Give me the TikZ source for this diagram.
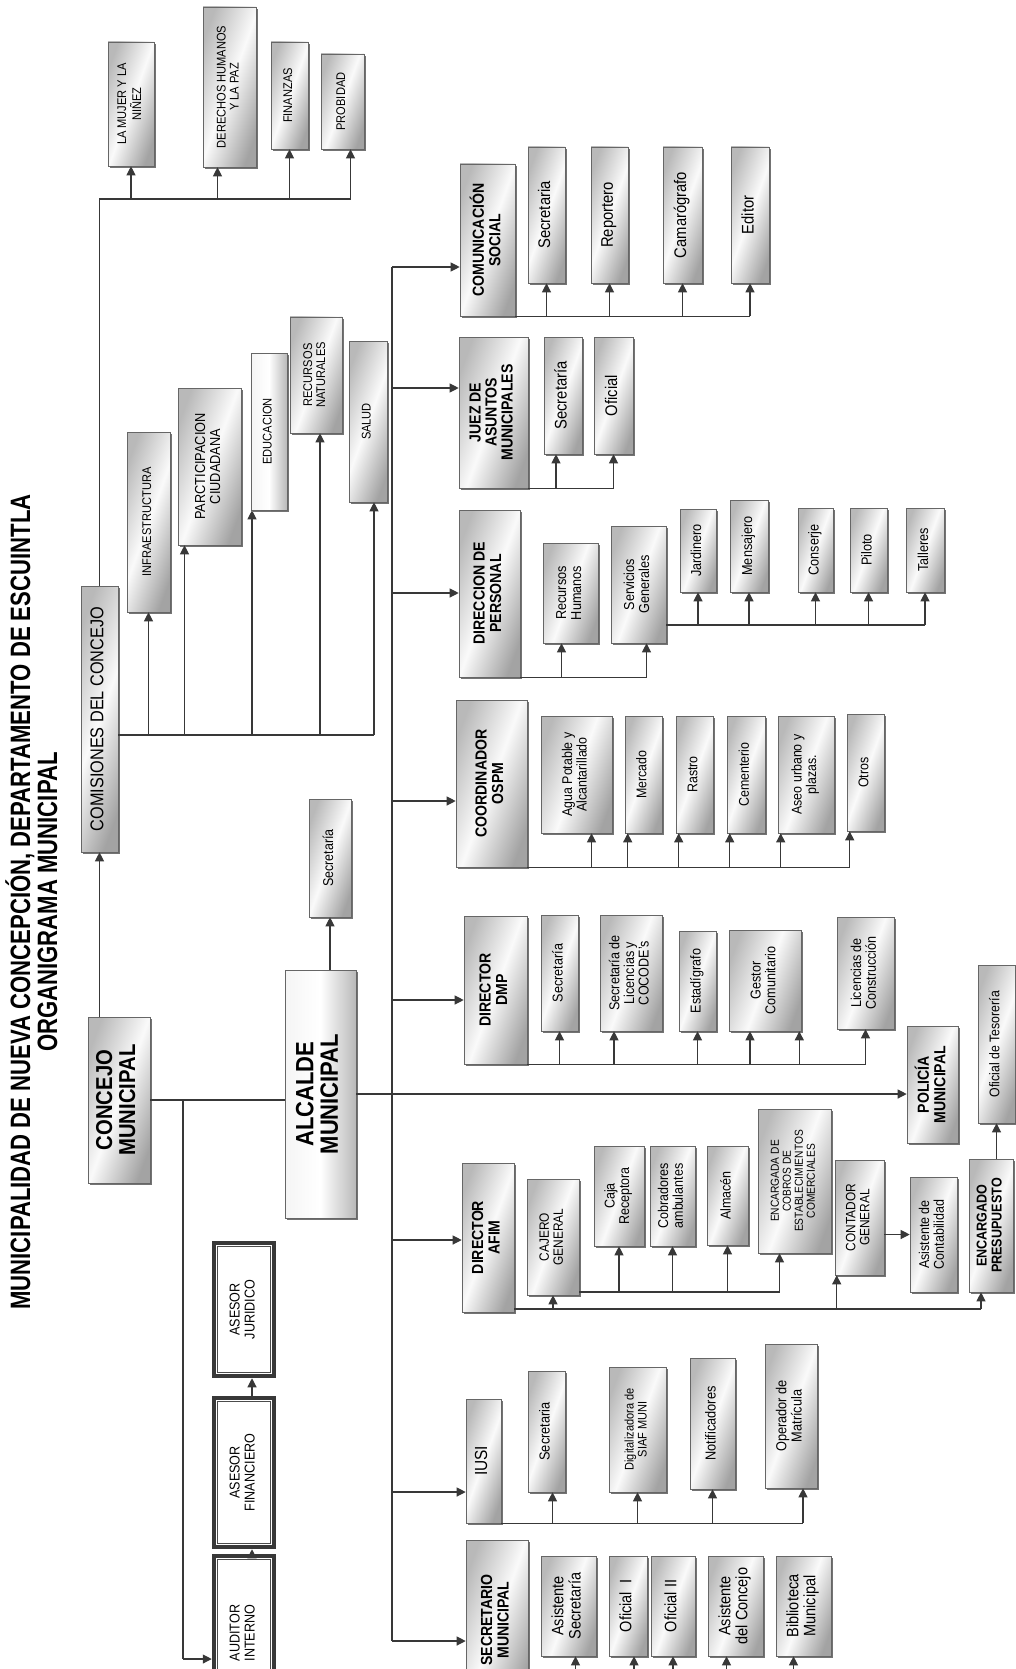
\documentclass[tikz,border=0pt]{standalone}
\usepackage{fontspec}
\setmainfont{Liberation Sans}
\usetikzlibrary{arrows.meta,shadows}
\newcommand{\fzz}[2]{\fontsize{#1}{#2}\selectfont}
\newcommand{\vtx}[3][0.88]{\rotatebox{90}{\scalebox{#1}[1]{#2\begin{tabular}{@{}c@{}}#3\end{tabular}}}}
\newcommand{\obox}[7][bx]{\node[#1,minimum width={(#5-#3)*1pt},minimum height={(#6-#4)*1pt}] (#2) at ({(#3+#5)/2},{(#4+#6)/2}) {#7};}
\tikzset{
  bx/.style={draw=black!60, line width=0.6pt, inner sep=0pt,
    left color=gray!55, right color=gray!72, middle color=gray!4, shading angle=70,
    drop shadow={shadow xshift=2.2pt, shadow yshift=-2.2pt, fill=black!55, opacity=1}},
  lightbx/.style={bx, left color=gray!8, right color=gray!55, middle color=white},
  asr/.style={draw=black!78, line width=4.5pt, fill=white, inner sep=0pt},
  ln/.style={draw=black!78, line width=1.1pt},
  arr/.style={ln, -{Triangle[width=9pt,length=9pt]}},
}
\begin{document}
\begin{tikzpicture}[x=1pt,y=-1pt]
\useasboundingbox (0,0) rectangle (1016,1669);
\clip (0,0) rectangle (1016,1669);
\fill[white] (0,0) rectangle (1016,1669);

% title
\node[inner sep=0pt] (title) at (35,902) {\vtx[0.79]{\fzz{28}{25}\bfseries}{MUNICIPALIDAD DE NUEVA CONCEPCIÓN, DEPARTAMENTO DE ESCUINTLA\\ORGANIGRAMA MUNICIPAL}};

% commissions
\obox{mujer}{108}{42}{154}{166}{\vtx{\fzz{12.6}{13}}{LA MUJER Y LA\\NIÑEZ}}
\obox{derechos}{203}{7}{256}{167}{\vtx{\fzz{12.6}{13}}{DERECHOS HUMANOS\\Y LA PAZ}}
\obox{finanzas}{271}{42}{308}{149}{\vtx{\fzz{12.6}{13}}{FINANZAS}}
\obox{probidad}{321}{54}{364}{149}{\vtx{\fzz{12.6}{13}}{PROBIDAD}}
\obox{infra}{127}{432}{170}{612}{\vtx{\fzz{12.6}{13}}{INFRAESTRUCTURA}}
\obox{partic}{178}{388}{241}{545}{\vtx{\fzz{14.5}{15}}{PARCTICIPACION\\CIUDADANA}}
\obox[lightbx]{educ}{251}{353}{287}{510}{\vtx{\fzz{12.6}{13}}{EDUCACION}}
\obox{recursos}{290}{317}{342}{433}{\vtx{\fzz{12.6}{13}}{RECURSOS\\NATURALES}}
\obox{salud}{349}{341}{387}{502}{\vtx{\fzz{12.6}{13}}{SALUD}}
\obox{comisiones}{81}{586}{118}{852}{\vtx{\fzz{18.5}{19}}{COMISIONES DEL CONCEJO}}
\obox{concejo}{88}{1017}{150}{1183}{\vtx{\fzz{23}{23}\bfseries}{CONCEJO\\MUNICIPAL}}
\obox[lightbx]{alcalde}{285}{970}{356}{1218}{\vtx{\fzz{25}{24}\bfseries}{ALCALDE\\MUNICIPAL}}
\obox{secalc}{309}{799}{351}{917}{\vtx{\fzz{14.2}{14.5}}{Secretaría}}

% asesores
\obox[asr]{juridico}{214}{1243}{274}{1376}{\vtx{\fzz{14.3}{15}}{ASESOR\\JURIDICO}}
\obox[asr]{financiero}{214}{1398}{274}{1547}{\vtx{\fzz{14.3}{15}}{ASESOR\\FINANCIERO}}
\obox[asr]{auditor}{214}{1556}{274}{1710}{\vtx{\fzz{14.3}{15}}{AUDITOR\\INTERNO}}
\foreach \n in {juridico,financiero,auditor}{
  \draw[line width=1pt, black!70] ([shift={(6pt,-6pt)}]\n.north west) rectangle ([shift={(-6pt,6pt)}]\n.south east);
}

% department heads
\obox{comsoc}{460}{164}{515}{316}{\vtx{\fzz{16}{16.5}\bfseries}{COMUNICACIÓN\\SOCIAL}}
\obox{juez}{459}{337}{528}{488}{\vtx{\fzz{16}{16}\bfseries}{JUEZ DE\\ASUNTOS\\MUNICIPALES}}
\obox{dirper}{459}{510}{520}{677}{\vtx{\fzz{16}{16.5}\bfseries}{DIRECCION DE\\PERSONAL}}
\obox{coord}{456}{700}{527}{867}{\vtx{\fzz{16}{16.5}\bfseries}{COORDINADOR\\OSPM}}
\obox{dmp}{464}{916}{527}{1064}{\vtx{\fzz{16}{16.5}\bfseries}{DIRECTOR\\DMP}}
\obox{afim}{462}{1163}{514}{1312}{\vtx{\fzz{16}{16.5}\bfseries}{DIRECTOR\\AFIM}}
\obox{iusi}{466}{1399}{501}{1523}{\vtx{\fzz{17.5}{18}}{IUSI}}
\obox{secmun}{466}{1540}{528}{1700}{\vtx{\fzz{16}{16.5}\bfseries}{SECRETARIO\\MUNICIPAL}}
\obox{policia}{907}{1026}{958}{1143}{\vtx{\fzz{16}{16.5}\bfseries}{POLICÍA\\MUNICIPAL}}
\obox{tes}{978}{965}{1015}{1123}{\vtx{\fzz{14}{14.5}}{Oficial de Tesorería}}

% comunicacion social
\obox{cs1}{528}{147}{565}{283}{\vtx{\fzz{16.8}{17}}{Secretaria}}
\obox{cs2}{591}{147}{628}{283}{\vtx{\fzz{16.8}{17}}{Reportero}}
\obox{cs3}{663}{147}{702}{283}{\vtx{\fzz{16.8}{17}}{Camarógrafo}}
\obox{cs4}{731}{147}{769}{283}{\vtx{\fzz{16.8}{17}}{Editor}}
% juez
\obox{j1}{544}{337}{582}{454}{\vtx{\fzz{16.8}{17}}{Secretaría}}
\obox{j2}{594}{337}{633}{454}{\vtx{\fzz{16.8}{17}}{Oficial}}
% direccion de personal
\obox{dp1}{543}{543}{598}{643}{\vtx{\fzz{14.4}{15}}{Recursos\\Humanos}}
\obox{dp2}{611}{526}{666}{643}{\vtx{\fzz{14.4}{15}}{Servicios\\Generales}}
\obox{sg1}{680}{509}{716}{592}{\vtx{\fzz{14.4}{15}}{Jardinero}}
\obox{sg2}{730}{500}{768}{592}{\vtx{\fzz{14.4}{15}}{Mensajero}}
\obox{sg3}{798}{508}{833}{592}{\vtx{\fzz{14.4}{15}}{Conserje}}
\obox{sg4}{850}{508}{887}{592}{\vtx{\fzz{14.4}{15}}{Piloto}}
\obox{sg5}{906}{508}{944}{592}{\vtx{\fzz{14.4}{15}}{Talleres}}
% coordinador
\obox{o1}{541}{716}{612}{833}{\vtx{\fzz{14.1}{14.5}}{Agua Potable y\\Alcantarillado}}
\obox{o2}{625}{716}{662}{833}{\vtx{\fzz{14.1}{14.5}}{Mercado}}
\obox{o3}{676}{716}{713}{833}{\vtx{\fzz{14.1}{14.5}}{Rastro}}
\obox{o4}{727}{716}{765}{833}{\vtx{\fzz{14.1}{14.5}}{Cementerio}}
\obox{o5}{778}{716}{834}{833}{\vtx{\fzz{14.1}{14.5}}{Aseo urbano y\\plazas.}}
\obox{o6}{847}{714}{884}{831}{\vtx{\fzz{14.1}{14.5}}{Otros}}
% dmp
\obox{d1}{541}{915}{578}{1031}{\vtx{\fzz{14.3}{14.5}}{Secretaría}}
\obox{d2}{600}{915}{662}{1031}{\vtx{\fzz{14.3}{14.5}}{Secretaría de\\Licencias y\\COCODE's}}
\obox{d3}{679}{931}{716}{1031}{\vtx{\fzz{14.3}{14.5}}{Estadígrafo}}
\obox{d4}{729}{930}{801}{1031}{\vtx{\fzz{14.3}{14.5}}{Gestor\\Comunitario}}
\obox{d5}{837}{917}{894}{1029}{\vtx{\fzz{14.3}{14.5}}{Licencias de\\Construcción}}
% afim
\obox{a1}{527}{1179}{579}{1295}{\vtx{\fzz{13.5}{14}}{CAJERO\\GENERAL}}
\obox{a2}{594}{1146}{644}{1246}{\vtx{\fzz{14.2}{14.5}}{Caja\\Receptora}}
\obox{a3}{650}{1146}{695}{1246}{\vtx{\fzz{14.2}{14.5}}{Cobradores\\ambulantes}}
\obox{a4}{707}{1146}{748}{1245}{\vtx{\fzz{14.2}{14.5}}{Almacén}}
\obox{a5}{758}{1109}{831}{1253}{\vtx{\fzz{11.6}{12}}{ENCARGADA DE\\COBROS DE\\ESTABLECIMIENTOS\\COMERCIALES}}
\obox{a6}{835}{1160}{884}{1275}{\vtx{\fzz{13.5}{14}}{CONTADOR\\GENERAL}}
\obox{a7}{910}{1177}{957}{1292}{\vtx{\fzz{14.2}{14.5}}{Asistente de\\Contabilidad}}
\obox{a8}{969}{1159}{1013}{1292}{\vtx{\fzz{14.3}{15}\bfseries}{ENCARGADO\\PRESUPUESTO}}
% iusi
\obox{i1}{528}{1371}{565}{1492}{\vtx{\fzz{14.5}{15}}{Secretaria}}
\obox{i2}{609}{1367}{666}{1492}{\vtx{\fzz{12.5}{13}}{Digitalizadora de\\SIAF MUNI}}
\obox{i3}{690}{1358}{735}{1489}{\vtx{\fzz{14.5}{15}}{Notificadores}}
\obox{i4}{765}{1344}{817}{1488}{\vtx{\fzz{14.5}{15}}{Operador de\\Matrícula}}
% secretario
\obox{s1}{541}{1556}{596}{1656}{\vtx{\fzz{16.5}{17}}{Asistente\\Secretaría}}
\obox{s2}{609}{1556}{647}{1656}{\vtx{\fzz{16.5}{17}}{Oficial\ \ I}}
\obox{s3}{651}{1556}{695}{1656}{\vtx{\fzz{16.5}{17}}{Oficial II}}
\obox{s4}{708}{1556}{763}{1656}{\vtx{\fzz{16.5}{17}}{Asistente\\del Concejo}}
\obox{s5}{776}{1556}{831}{1656}{\vtx{\fzz{16.5}{17}}{Biblioteca\\Municipal}}

% ---- connectors ----
% commissions top
\coordinate (tb) at (0,199);
\draw[ln] (comisiones.north) -- (comisiones.north |- tb) -- ([xshift=8pt]probidad.south |- tb);
\draw[arr] (mujer.south |- tb) -- (mujer.south);
\draw[arr] ([xshift=-12pt]derechos.south |- tb) -- ([xshift=-12pt]derechos.south);
\draw[arr] (finanzas.south |- tb) -- (finanzas.south);
\draw[arr] ([xshift=8pt]probidad.south |- tb) -- ([xshift=8pt]probidad.south);
% commissions bottom
\coordinate (cb) at (0,735);
\draw[ln] (comisiones.east |- cb) -- ([xshift=6pt]salud.south |- cb);
\draw[arr] (infra.south |- cb) -- (infra.south);
\draw[arr] ([xshift=-25pt]partic.south |- cb) -- ([xshift=-25pt]partic.south);
\draw[arr] ([xshift=-17pt]educ.south |- cb) -- ([xshift=-17pt]educ.south);
\draw[arr] ([xshift=4pt]recursos.south |- cb) -- ([xshift=4pt]recursos.south);
\draw[arr] ([xshift=6pt]salud.south |- cb) -- ([xshift=6pt]salud.south);
% concejo
\draw[arr] (comisiones.south |- concejo.north) -- (comisiones.south);
\draw[ln] (concejo.east) -- (concejo.east -| alcalde.west);
\coordinate (aud) at (183,1659);
\draw[ln] (concejo.east -| aud) -- (aud);
\draw[arr] (aud) -- (aud -| auditor.west);
\draw[arr] ([xshift=8pt]auditor.north) -- ([xshift=8pt]financiero.south);
\draw[arr] ([xshift=8pt]financiero.north) -- ([xshift=8pt]juridico.south);
% alcalde
\draw[arr] (secalc.south |- alcalde.north) -- (secalc.south);
\draw[arr] (alcalde.east) -- (alcalde.east -| policia.west);
% trunk
\coordinate (tA) at (392,267);
\coordinate (tB) at (392,388);
\coordinate (tC) at (392,593);
\coordinate (tD) at (392,801);
\coordinate (tE) at (392,1000);
\coordinate (tF) at (392,1240);
\coordinate (tG) at (392,1492);
\coordinate (tH) at (392,1641);
\draw[ln] (tA) -- (tH);
\draw[arr] (tA) -- (tA -| comsoc.west);
\draw[arr] (tB) -- (tB -| juez.west);
\draw[arr] (tC) -- (tC -| dirper.west);
\draw[arr] (tD) -- (tD -| coord.west);
\draw[arr] (tE) -- (tE -| dmp.west);
\draw[arr] (tF) -- (tF -| afim.west);
\draw[arr] (tG) -- (tG -| iusi.west);
\draw[arr] (tH) -- (tH -| secmun.west);
% comunicacion social
\draw[ln] (comsoc.south east) -- (cs4.south |- comsoc.south east);
\foreach \n in {cs1,cs2,cs3,cs4}{\draw[arr] (\n.south |- comsoc.south) -- (\n.south);}
% juez
\draw[ln] (juez.south east) -- (j2.south |- juez.south east);
\draw[arr] ([xshift=-7pt]j1.south |- juez.south) -- ([xshift=-7pt]j1.south);
\draw[arr] (j2.south |- juez.south) -- (j2.south);
% direccion de personal
\draw[ln] (dirper.south east) -- ([xshift=8pt]dp2.south |- dirper.south east);
\draw[arr] ([xshift=-9pt]dp1.south |- dirper.south) -- ([xshift=-9pt]dp1.south);
\draw[arr] ([xshift=8pt]dp2.south |- dirper.south) -- ([xshift=8pt]dp2.south);
\coordinate (sb) at (0,625);
\draw[ln] (dp2.east |- sb) -- (sg5.south |- sb);
\foreach \n in {sg1,sg2,sg3,sg4,sg5}{\draw[arr] (\n.south |- sb) -- (\n.south);}
% coordinador
\draw[ln] (coord.south east) -- ([xshift=3pt]o6.south west |- coord.south east);
\draw[arr] ([xshift=15pt]o1.south |- coord.south) -- ([xshift=15pt]o1.south);
\foreach \n in {o2,o3,o4,o5,o6}{\draw[arr] ([xshift=3pt]\n.south west |- coord.south) -- ([xshift=3pt]\n.south west);}
% dmp
\draw[ln] (dmp.south east) -- (d5.south |- dmp.south east);
\draw[arr] (d1.south |- dmp.south) -- (d1.south);
\draw[arr] ([xshift=-17pt]d2.south |- dmp.south) -- ([xshift=-17pt]d2.south);
\draw[arr] (d3.south |- dmp.south) -- (d3.south);
\draw[arr] ([xshift=-15pt]d4.south |- dmp.south) -- ([xshift=-15pt]d4.south);
\draw[arr] ([xshift=-2pt]d4.south east |- dmp.south) -- ([xshift=-2pt]d4.south east);
\draw[arr] (d5.south |- dmp.south) -- (d5.south);
% afim
\coordinate (ab) at (0,1292);
\draw[ln] (a1.east |- ab) -- ([xshift=-15pt]a5.south |- ab);
\foreach \n in {a2,a3,a4}{\draw[arr] (\n.south |- ab) -- (\n.south);}
\draw[arr] ([xshift=-15pt]a5.south |- ab) -- ([xshift=-15pt]a5.south);
\coordinate (afb) at (0,1309);
\draw[ln] (afim.east |- afb) -- ([xshift=-10pt]a8.south |- afb);
\draw[arr] (a1.south |- afb) -- (a1.south);
\draw[arr] ([xshift=2pt]a6.south west |- afb) -- ([xshift=2pt]a6.south west);
\draw[arr] ([xshift=-10pt]a8.south |- afb) -- ([xshift=-10pt]a8.south);
\draw[arr] (a6.east |- a7.west) -- (a7.west);
\draw[arr] (tes.south |- a8.north) -- (tes.south);
% iusi
\draw[ln] (iusi.south east) -- ([xshift=12pt]i4.south |- iusi.south east);
\draw[arr] ([xshift=6pt]i1.south |- iusi.south) -- ([xshift=6pt]i1.south);
\draw[arr] (i2.south |- iusi.south) -- (i2.south);
\draw[arr] (i3.south |- iusi.south) -- (i3.south);
\draw[arr] ([xshift=12pt]i4.south |- iusi.south) -- ([xshift=12pt]i4.south);
% secretario municipal
\coordinate (pb) at (0,1672);
\draw[arr] ([xshift=7pt]s1.south |- pb) -- ([xshift=7pt]s1.south);
\draw[arr] ([xshift=6pt]s2.south |- pb) -- ([xshift=6pt]s2.south);
\draw[arr] (s3.south |- pb) -- (s3.south);
\draw[arr] ([xshift=-9pt]s4.south |- pb) -- ([xshift=-9pt]s4.south);
\draw[arr] ([xshift=-10pt]s5.south |- pb) -- ([xshift=-10pt]s5.south);
\end{tikzpicture}
\end{document}
